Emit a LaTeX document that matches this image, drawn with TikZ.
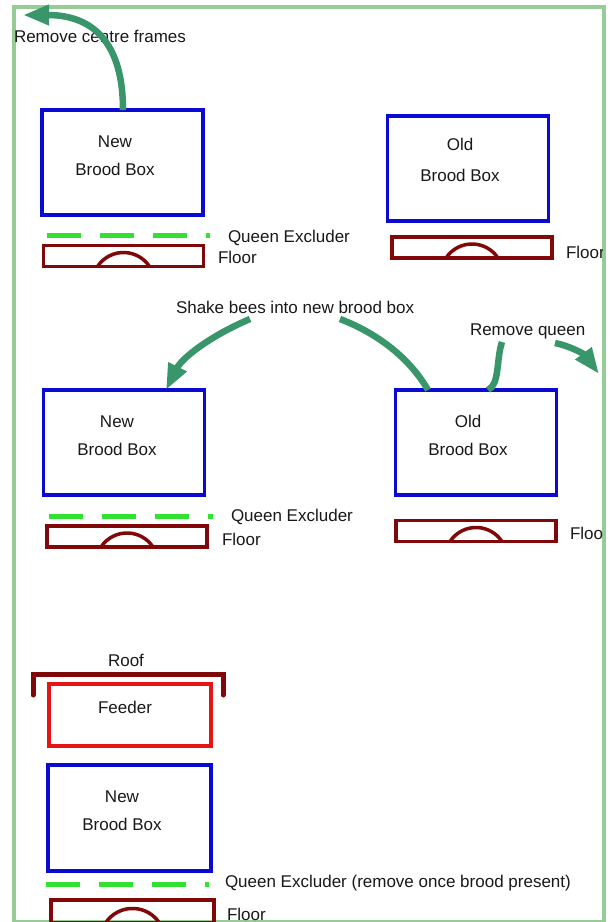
\documentclass[tikz,border=0pt]{standalone}
\usepackage{fontspec}
\setmainfont{Liberation Sans}
\usetikzlibrary{arrows.meta,calc}
\definecolor{framegreen}{RGB}{150,205,150}
\definecolor{boxblue}{RGB}{10,10,210}
\definecolor{floorred}{RGB}{128,8,8}
\definecolor{feedred}{RGB}{230,20,20}
\definecolor{qegreen}{RGB}{50,225,50}
\definecolor{arrowgreen}{RGB}{56,150,106}
\definecolor{txt}{RGB}{25,25,25}
\begin{document}
\begin{tikzpicture}[x=1pt,y=1pt,
 every node/.style={font=\fontsize{17}{28}\selectfont, text=txt, inner sep=0pt, outer sep=0pt},
 broodbox/.style={draw=boxblue, line width=3.5pt, minimum width=161pt, minimum height=105pt},
 feederbox/.style={draw=feedred, line width=3.5pt, minimum width=162pt, minimum height=62pt},
 floorbox/.style={draw=floorred, line width=3.5pt, minimum width=160pt, minimum height=21pt},
 floorarc/.style={draw=floorred, line width=3.5pt},
 excluder/.style={draw=qegreen, line width=5pt, dash pattern=on 34pt off 19pt},
 roofline/.style={draw=floorred, line width=5pt, line cap=round},
 lbl/.style={anchor=base west},
 boxtext/.style={anchor=base},
 bigarrow/.style={draw=arrowgreen, line width=6.5pt, -{Triangle[length=26pt,width=19pt]}},
 plainarc/.style={draw=arrowgreen, line width=6.5pt},
]
\useasboundingbox (0,0) rectangle (611,-922);
\fill[white] (0,0) rectangle (611,-922);
\draw[framegreen, line width=4pt] (13.5,-6.5) rectangle (604,-922);

\begin{scope}
\clip (0,0) rectangle (602,-922);

% ---------- top left ----------
\node[broodbox] (b1) at (122.5,-162.5) {};
\node[boxtext] (b1a) at (115,-147) {New};
\node[boxtext] (b1b) at (115,-175) {Brood Box};
\coordinate (q1s) at (47,-235);
\coordinate (q1e) at (210,-235);
\draw[excluder] (q1s) -- (q1e);
\node[lbl] (q1l) at (228,-242) {Queen Excluder};
\node[floorbox] (f1) at (123.5,-256) {};
\draw[floorarc] ([xshift=-26pt]f1.south) arc[start angle=146.7,end angle=33.3,radius=31.1pt];
\node[lbl] (f1l) at (218,-263) {Floor};
\node[lbl] (rcf) at (14,-42) {Remove centre frames};
\coordinate (a1end) at (23,-15);
\draw[bigarrow] ([xshift=0.5pt]b1.north) .. controls (123,-45) and (95,-15) .. (a1end);

% ---------- top right ----------
\node[broodbox] (b2) at (468,-168.5) {};
\node[boxtext] (b2a) at (460,-150) {Old};
\node[boxtext] (b2b) at (460,-181) {Brood Box};
\node[floorbox] (f2) at (472,-247.5) {};
\draw[floorarc] ([xshift=-26pt]f2.south) arc[start angle=146.7,end angle=33.3,radius=31.1pt];
\node[lbl] (f2l) at (566,-258) {Floor};

% ---------- middle ----------
\node[lbl] (shake) at (176,-313) {Shake bees into new brood box};
\node[lbl] (rq) at (470,-335) {Remove queen};
\node[broodbox] (b3) at (124,-442.5) {};
\node[boxtext] (b3a) at (117,-427) {New};
\node[boxtext] (b3b) at (117,-455) {Brood Box};
\coordinate (q2s) at (49,-516);
\coordinate (q2e) at (213,-516);
\draw[excluder] (q2s) -- (q2e);
\node[lbl] (q2l) at (231,-521) {Queen Excluder};
\node[floorbox] (f3) at (127,-536.5) {};
\draw[floorarc] ([xshift=-26pt]f3.south) arc[start angle=146.7,end angle=33.3,radius=31.1pt];
\node[lbl] (f3l) at (222,-545) {Floor};

\node[broodbox] (b4) at (476,-442.5) {};
\node[boxtext] (b4a) at (468,-427) {Old};
\node[boxtext] (b4b) at (468,-455) {Brood Box};
\node[floorbox] (f4) at (476,-531) {};
\draw[floorarc] ([xshift=-26pt]f4.south) arc[start angle=146.7,end angle=33.3,radius=31.1pt];
\node[lbl] (f4l) at (570,-539) {Floor};

\coordinate (shL) at (250,-319);
\coordinate (shR) at (340,-319);
\draw[bigarrow] (shL) .. controls (210,-336) and (182,-358) .. ([xshift=42pt]b3.north);
\draw[plainarc] (shR) .. controls (382,-335) and (412,-362) .. ([xshift=-48pt]b4.north);
\coordinate (rq1) at (502,-342);
\draw[plainarc] ([xshift=12pt]b4.north) .. controls (500,-384) and (496,-360) .. (rq1);
\coordinate (rq2) at (555,-343);
\coordinate (rq3) at (599,-374);
\draw[bigarrow] (rq2) .. controls (570,-346) and (584,-354) .. (rq3);

% ---------- bottom ----------
\node[boxtext] (roof) at (126,-666) {Roof};
\coordinate (r1) at (33,-695);
\coordinate (r2) at (33,-674);
\coordinate (r3) at (223,-674);
\coordinate (r4) at (223,-695);
\draw[roofline] (r1) -- (r2) -- (r3) -- (r4);
\node[feederbox] (fd) at (130,-715) {};
\node[boxtext] (fdt) at (125,-713) {Feeder};
\node[broodbox, minimum width=163pt, minimum height=106pt] (b5) at (129.5,-818) {};
\node[boxtext] (b5a) at (122,-802) {New};
\node[boxtext] (b5b) at (122,-830) {Brood Box};
\coordinate (q3s) at (46,-884);
\coordinate (q3e) at (209,-884);
\draw[excluder] (q3s) -- (q3e);
\node[lbl] (q3l) at (225,-887) {Queen Excluder (remove once brood present)};
\node[floorbox, minimum width=163pt, minimum height=23pt] (f5) at (132.5,-911.5) {};
\draw[floorarc] ([xshift=-27pt]f5.south) arc[start angle=146.7,end angle=33.3,radius=32.3pt];
\node[lbl] (f5l) at (227,-920) {Floor};
\end{scope}
\end{tikzpicture}
\end{document}
